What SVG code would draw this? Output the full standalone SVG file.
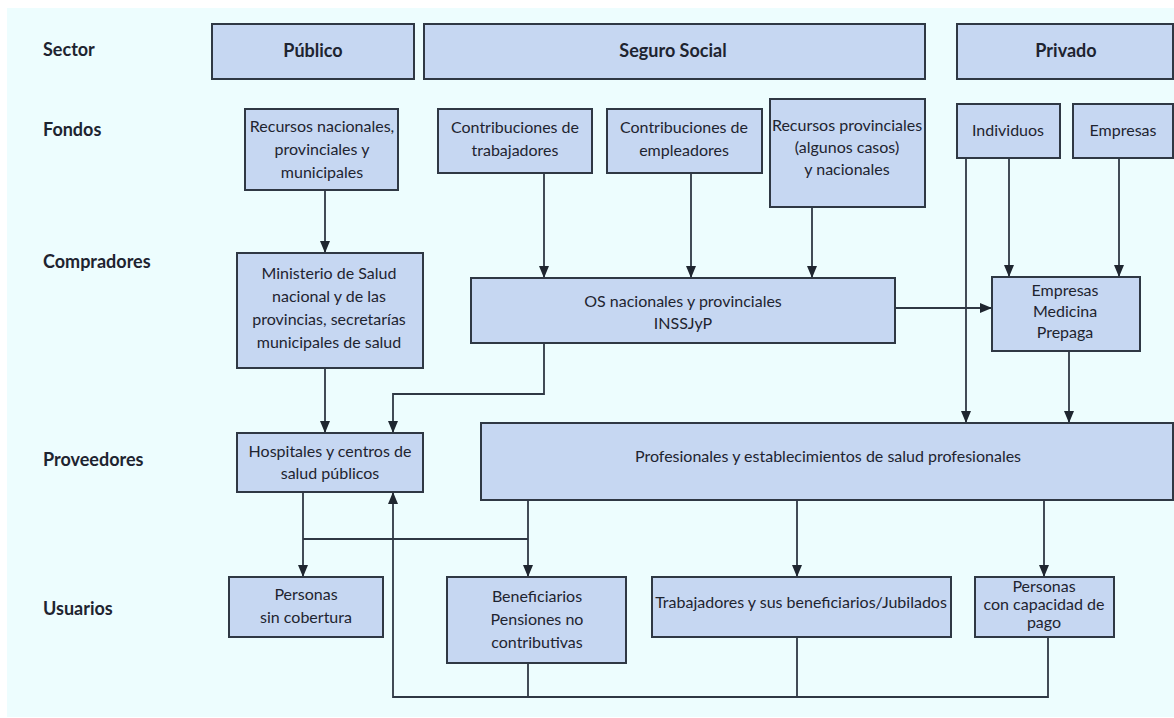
<svg xmlns="http://www.w3.org/2000/svg" width="1174" height="718" viewBox="0 0 1174 718">
<defs>
<style>
.box{fill:#c6d7f2;stroke:#2f3844;stroke-width:2}
.t{font-family:Lato,"Open Sans","Liberation Sans",sans-serif;font-size:16px;fill:#1e2430;text-anchor:middle}
.h{font-family:Lato,"Open Sans","Liberation Sans",sans-serif;font-size:18px;font-weight:bold;fill:#1e2430;text-anchor:middle}
.lab{font-family:Lato,"Open Sans","Liberation Sans",sans-serif;font-size:18px;font-weight:bold;fill:#1e2430}
.c{fill:none;stroke:#2f3844;stroke-width:1.8}
.a{marker-end:url(#arr)}
</style>
<marker id="arr" markerUnits="userSpaceOnUse" markerWidth="12" markerHeight="10" refX="12" refY="5" orient="auto">
<path d="M0,0 L12,5 L0,10 z" fill="#1f2630"/>
</marker>
</defs>
<rect x="0" y="0" width="1174" height="718" fill="#ffffff"/>
<rect x="7" y="8" width="1167" height="709" fill="#edfdfe"/>

<g id="row-labels">
<text class="lab" x="43" y="56">Sector</text>
<text class="lab" x="43" y="136">Fondos</text>
<text class="lab" x="43" y="268">Compradores</text>
<text class="lab" x="43" y="466">Proveedores</text>
<text class="lab" x="43" y="615">Usuarios</text>
</g>

<g id="connectors">
<path class="c a" d="M325,190 V253"/>
<path class="c a" d="M544,173 V278"/>
<path class="c a" d="M691,173 V278"/>
<path class="c a" d="M812,207 V278"/>
<path class="c a" d="M966,158 V423"/>
<path class="c a" d="M1009,158 V277"/>
<path class="c a" d="M1119,158 V277"/>
<path class="c a" d="M895,308 H992"/>
<path class="c a" d="M325,368 V433"/>
<path class="c a" d="M544,343 V394 H393 V433"/>
<path class="c a" d="M1069,351 V423"/>
<path class="c a" d="M303,492 V577"/>
<path class="c" d="M303,539 H528"/>
<path class="c a" d="M528,500 V577"/>
<path class="c a" d="M797,500 V577"/>
<path class="c a" d="M1044,500 V577"/>
<path class="c" d="M528,663 V697"/>
<path class="c" d="M797,637 V697"/>
<path class="c a" d="M1048,637 V697 H393 V492"/>
</g>

<g id="publico"><rect class="box" x="212" y="24" width="202" height="55"/><text class="h" x="313" y="57">Público</text></g>
<g id="seguro-social"><rect class="box" x="424" y="24" width="501" height="55"/><text class="h" x="673" y="57">Seguro Social</text></g>
<g id="privado"><rect class="box" x="957" y="24" width="216" height="55"/><text class="h" x="1066" y="57">Privado</text></g>

<g id="recursos-nacionales"><rect class="box" x="245" y="109" width="153" height="81"/>
<text class="t" x="322" y="132">Recursos nacionales,</text><text class="t" x="322" y="155">provinciales y</text><text class="t" x="322" y="178">municipales</text></g>
<g id="contrib-trabajadores"><rect class="box" x="438" y="109" width="154" height="64"/>
<text class="t" x="515" y="133">Contribuciones de</text><text class="t" x="515" y="156">trabajadores</text></g>
<g id="contrib-empleadores"><rect class="box" x="607" y="109" width="155" height="64"/>
<text class="t" x="684" y="133">Contribuciones de</text><text class="t" x="684" y="156">empleadores</text></g>
<g id="recursos-provinciales"><rect class="box" x="770" y="99" width="155" height="108"/>
<text class="t" x="847" y="131">Recursos provinciales</text><text class="t" x="847" y="153">(algunos casos)</text><text class="t" x="847" y="175">y nacionales</text></g>
<g id="individuos"><rect class="box" x="957" y="104" width="103" height="54"/><text class="t" x="1008" y="136">Individuos</text></g>
<g id="empresas"><rect class="box" x="1073" y="104" width="100" height="54"/><text class="t" x="1123" y="136">Empresas</text></g>

<g id="ministerio"><rect class="box" x="237" y="253" width="186" height="115"/>
<text class="t" x="329" y="279">Ministerio de Salud</text><text class="t" x="329" y="302">nacional y de las</text><text class="t" x="329" y="325">provincias, secretarías</text><text class="t" x="329" y="348">municipales de salud</text></g>
<g id="os"><rect class="box" x="471" y="278" width="424" height="65"/>
<text class="t" x="683" y="307">OS nacionales y provinciales</text><text class="t" x="683" y="329">INSSJyP</text></g>
<g id="emp"><rect class="box" x="992" y="277" width="148" height="74"/>
<text class="t" x="1065" y="296">Empresas</text><text class="t" x="1065" y="317">Medicina</text><text class="t" x="1065" y="338">Prepaga</text></g>

<g id="hospitales"><rect class="box" x="237" y="433" width="186" height="59"/>
<text class="t" x="330" y="457">Hospitales y centros de</text><text class="t" x="330" y="479">salud públicos</text></g>
<g id="profesionales"><rect class="box" x="481" y="423" width="692" height="77"/>
<text class="t" x="828" y="462">Profesionales y establecimientos de salud profesionales</text></g>

<g id="sin-cobertura"><rect class="box" x="229" y="577" width="154" height="60"/>
<text class="t" x="306" y="600">Personas</text><text class="t" x="306" y="623">sin cobertura</text></g>
<g id="beneficiarios"><rect class="box" x="447" y="577" width="179" height="86"/>
<text class="t" x="537" y="602">Beneficiarios</text><text class="t" x="537" y="625">Pensiones no</text><text class="t" x="537" y="648">contributivas</text></g>
<g id="trabajadores"><rect class="box" x="652" y="577" width="299" height="60"/>
<text class="t" x="801" y="608">Trabajadores y sus beneficiarios/Jubilados</text></g>
<g id="capacidad-pago"><rect class="box" x="975" y="577" width="139" height="60"/>
<text class="t" x="1044" y="592">Personas</text><text class="t" x="1044" y="610">con capacidad de</text><text class="t" x="1044" y="628">pago</text></g>
</svg>
